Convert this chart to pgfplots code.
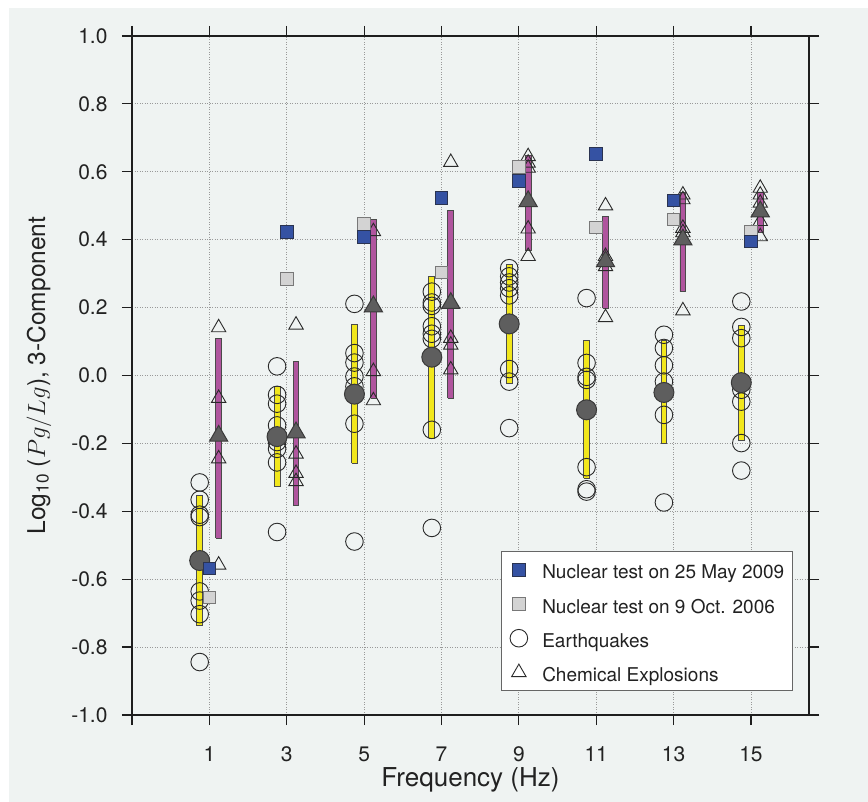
\documentclass[border=0pt]{standalone}
\usepackage{fontspec}
\setmainfont{TeX Gyre Heros}
\usepackage{pgfplots}
\usepackage{pgfplotstable}
\pgfplotsset{compat=1.18}

\definecolor{panel}{HTML}{EFF3F2}
\definecolor{frame}{HTML}{1E1E1E}
\definecolor{labeltext}{HTML}{222222}
\definecolor{mk}{HTML}{2A2A2A}
\definecolor{nblue}{HTML}{3552A3}
\definecolor{nblueline}{HTML}{2A3350}
\definecolor{ngray}{HTML}{D3D3D3}
\definecolor{ngrayline}{HTML}{787878}
\definecolor{eqbarc}{HTML}{F2E71C}
\definecolor{chbarc}{HTML}{B0559E}
\definecolor{barline}{HTML}{4A4A4A}
\definecolor{meanfill}{HTML}{5E5E5E}
\definecolor{meanline}{HTML}{3A3A3A}

% earthquakes, plotted 0.25 Hz left of each frequency
\pgfplotstableread{
x y
0.75 -0.315
0.75 -0.366
0.75 -0.410
0.75 -0.417
0.75 -0.636
0.75 -0.663
0.75 -0.703
0.75 -0.844
2.75 0.027
2.75 -0.057
2.75 -0.083
2.75 -0.147
2.75 -0.196
2.75 -0.216
2.75 -0.256
2.75 -0.461
4.75 0.211
4.75 0.066
4.75 0.038
4.75 -0.003
4.75 -0.032
4.75 -0.142
4.75 -0.489
6.75 0.247
6.75 0.215
6.75 0.205
6.75 0.145
6.75 0.123
6.75 0.108
6.75 -0.160
6.75 -0.449
8.75 0.316
8.75 0.292
8.75 0.274
8.75 0.257
8.75 0.236
8.75 0.019
8.75 -0.018
8.75 -0.155
10.75 0.228
10.75 0.037
10.75 -0.004
10.75 -0.013
10.75 -0.270
10.75 -0.335
10.75 -0.342
12.75 0.120
12.75 0.081
12.75 0.030
12.75 -0.018
12.75 -0.050
12.75 -0.116
12.75 -0.374
14.75 0.218
14.75 0.143
14.75 0.110
14.75 -0.022
14.75 -0.042
14.75 -0.077
14.75 -0.199
14.75 -0.280
}\eq

% chemical explosions, 0.24 Hz right
\pgfplotstableread{
x y
1.24 0.141
1.24 -0.067
1.24 -0.245
1.24 -0.558
3.24 0.149
3.24 -0.231
3.24 -0.288
3.24 -0.312
5.24 0.424
5.24 0.012
5.24 -0.074
7.24 0.628
7.24 0.110
7.24 0.090
7.24 0.017
9.24 0.645
9.24 0.626
9.24 0.611
9.24 0.432
9.24 0.351
11.24 0.500
11.24 0.351
11.24 0.336
11.24 0.321
11.24 0.171
13.24 0.532
13.24 0.518
13.24 0.434
13.24 0.421
13.24 0.191
15.24 0.552
15.24 0.532
15.24 0.508
15.24 0.454
15.24 0.409
}\ch

% group means
\pgfplotstableread{
x mean
0.75 -0.545
2.75 -0.180
4.75 -0.055
6.75 0.054
8.75 0.152
10.75 -0.101
12.75 -0.050
14.75 -0.021
}\eqmean

\pgfplotstableread{
x mean
1.24 -0.178
3.24 -0.168
5.24 0.203
7.24 0.213
9.24 0.513
11.24 0.336
13.24 0.400
15.24 0.483
}\chmean

% range bars as rectangles (corners), one block per frequency
\pgfplotstableread{
x y
0.675 -0.737
0.825 -0.737
0.825 -0.354
0.675 -0.354
0.675 -0.737
nan nan
2.675 -0.327
2.825 -0.327
2.825 -0.032
2.675 -0.032
2.675 -0.327
nan nan
4.675 -0.258
4.825 -0.258
4.825 0.149
4.675 0.149
4.675 -0.258
nan nan
6.675 -0.184
6.825 -0.184
6.825 0.293
6.675 0.293
6.675 -0.184
nan nan
8.675 -0.024
8.825 -0.024
8.825 0.328
8.675 0.328
8.675 -0.024
nan nan
10.675 -0.302
10.825 -0.302
10.825 0.102
10.675 0.102
10.675 -0.302
nan nan
12.675 -0.199
12.825 -0.199
12.825 0.103
12.675 0.103
12.675 -0.199
nan nan
14.675 -0.191
14.825 -0.191
14.825 0.147
14.675 0.147
14.675 -0.191
}\eqbar

\pgfplotstableread{
x y
1.165 -0.479
1.315 -0.479
1.315 0.110
1.165 0.110
1.165 -0.479
nan nan
3.165 -0.384
3.315 -0.384
3.315 0.041
3.165 0.041
3.165 -0.384
nan nan
5.165 -0.067
5.315 -0.067
5.315 0.459
5.165 0.459
5.165 -0.067
nan nan
7.165 -0.067
7.315 -0.067
7.315 0.486
7.165 0.486
7.165 -0.067
nan nan
9.165 0.368
9.315 0.368
9.315 0.647
9.165 0.647
9.165 0.368
nan nan
11.165 0.198
11.315 0.198
11.315 0.468
11.165 0.468
11.165 0.198
nan nan
13.165 0.247
13.315 0.247
13.315 0.539
13.165 0.539
13.165 0.247
nan nan
15.165 0.421
15.315 0.421
15.315 0.539
15.165 0.539
15.165 0.421
}\chbar

% nuclear tests
\pgfplotstableread{
x may09 oct06
1 -0.569 -0.654
3 0.423 0.284
5 0.408 0.447
7 0.523 0.303
9 0.573 0.614
11 0.653 0.436
13 0.515 0.459
15 0.395 0.424
}\nuc

\begin{document}
\begin{tikzpicture}
\useasboundingbox (0,0) rectangle (868bp,802bp);
\fill[white] (0,0) rectangle (868bp,802bp);
\fill[panel] (9bp,0) rectangle (868bp,794bp);
\begin{axis}[
  at={(132bp,87bp)}, anchor=south west,
  width=677bp, height=679bp, scale only axis,
  xmin=-1, xmax=16.5, ymin=-1, ymax=1,
  unbounded coords=jump,
  xtick={1,3,5,7,9,11,13,15},
  xticklabels={1,3,5,7,9,11,13,15},
  extra x ticks={-1}, extra x tick labels={},
  extra x tick style={grid=none},
  ytick={-1,-0.8,-0.6,-0.4,-0.2,0,0.2,0.4,0.6,0.8,1},
  yticklabels={-1.0,-0.8,-0.6,-0.4,-0.2,0.0,0.2,0.4,0.6,0.8,1.0},
  xtick pos=both, ytick pos=both,
  tick align=outside,
  major tick length=10bp,
  tick style={draw=frame, line width=1.2bp},
  grid=major,
  major grid style={draw=black!40, line width=0.8bp, dash pattern=on 1bp off 1.5bp},
  axis line style={draw=frame, line width=2bp},
  tick label style={font=\fontsize{21bp}{25bp}\selectfont, text=labeltext},
  xticklabel style={anchor=base, yshift=-36bp},
  yticklabel style={anchor=east, xshift=-11bp},
  xlabel={Frequency (Hz)},
  ylabel={Log\textsubscript{10} ($Pg/Lg$), 3-Component},
  xlabel style={font=\fontsize{26bp}{30bp}\selectfont, text=labeltext,
    at={(axis description cs:0.5,-0.1046)}, anchor=base},
  ylabel style={font=\fontsize{24.5bp}{29bp}\selectfont, text=labeltext,
    at={(axis description cs:-0.1285,0.5)}, anchor=base},
  legend style={at={(axis description cs:0.545,0.2415)}, anchor=north west,
    draw=black!60, fill=white, line width=1bp,
    font=\fontsize{19bp}{22bp}\selectfont, text=labeltext,
    inner xsep=8.6bp, inner ysep=5.3bp, row sep=8.2bp, column sep=14.6bp,
    nodes={inner sep=0bp, text height=22bp, text depth=4bp}},
  legend cell align=left,
  legend image code/.code={\draw[#1] plot coordinates {(0bp,0bp)};},
]
\addlegendimage{only marks, mark=square*, mark size=6.3bp,
  mark options={fill=nblue, draw=nblueline, line width=1bp}}
\addlegendentry{Nuclear test on 25 May 2009}
\addlegendimage{only marks, mark=square*, mark size=6.3bp,
  mark options={fill=ngray, draw=ngrayline, line width=1bp}}
\addlegendentry{Nuclear test on 9 Oct. 2006}
\addlegendimage{only marks, mark=o, mark size=8.8bp,
  mark options={draw=mk, line width=0.9bp}}
\addlegendentry{Earthquakes}
\addlegendimage{only marks, mark=triangle, mark size=8.3bp,
  mark options={draw=mk, line width=0.9bp}}
\addlegendentry{Chemical Explosions}

% individual events
\addplot[forget plot, only marks, mark=o, mark size=8.8bp,
  mark options={draw=mk, line width=0.9bp}] table[x=x, y=y] {\eq};
\addplot[forget plot, only marks, mark=triangle, mark size=8.3bp,
  mark options={draw=mk, line width=0.9bp}] table[x=x, y=y] {\ch};

% range bars
\addplot[forget plot, mark=none, draw=barline, line width=0.9bp,
  fill=eqbarc, line join=miter] table[x=x, y=y] {\eqbar};
\addplot[forget plot, mark=none, draw=barline, line width=0.9bp,
  fill=chbarc, line join=miter] table[x=x, y=y] {\chbar};

% means
\addplot[forget plot, only marks, mark=*, mark size=10bp,
  mark options={fill=meanfill, draw=meanline, line width=1bp}] table[x=x, y=mean] {\eqmean};
\addplot[forget plot, only marks, mark=triangle*, mark size=10.5bp,
  mark options={fill=meanfill, draw=meanline, line width=1bp}] table[x=x, y=mean] {\chmean};

% nuclear tests
\addplot[forget plot, only marks, mark=square*, mark size=6.3bp,
  mark options={fill=ngray, draw=ngrayline, line width=1bp}] table[x=x, y=oct06] {\nuc};
\addplot[forget plot, only marks, mark=square*, mark size=6.3bp,
  mark options={fill=nblue, draw=nblueline, line width=1bp}] table[x=x, y=may09] {\nuc};
\end{axis}
\end{tikzpicture}
\end{document}
